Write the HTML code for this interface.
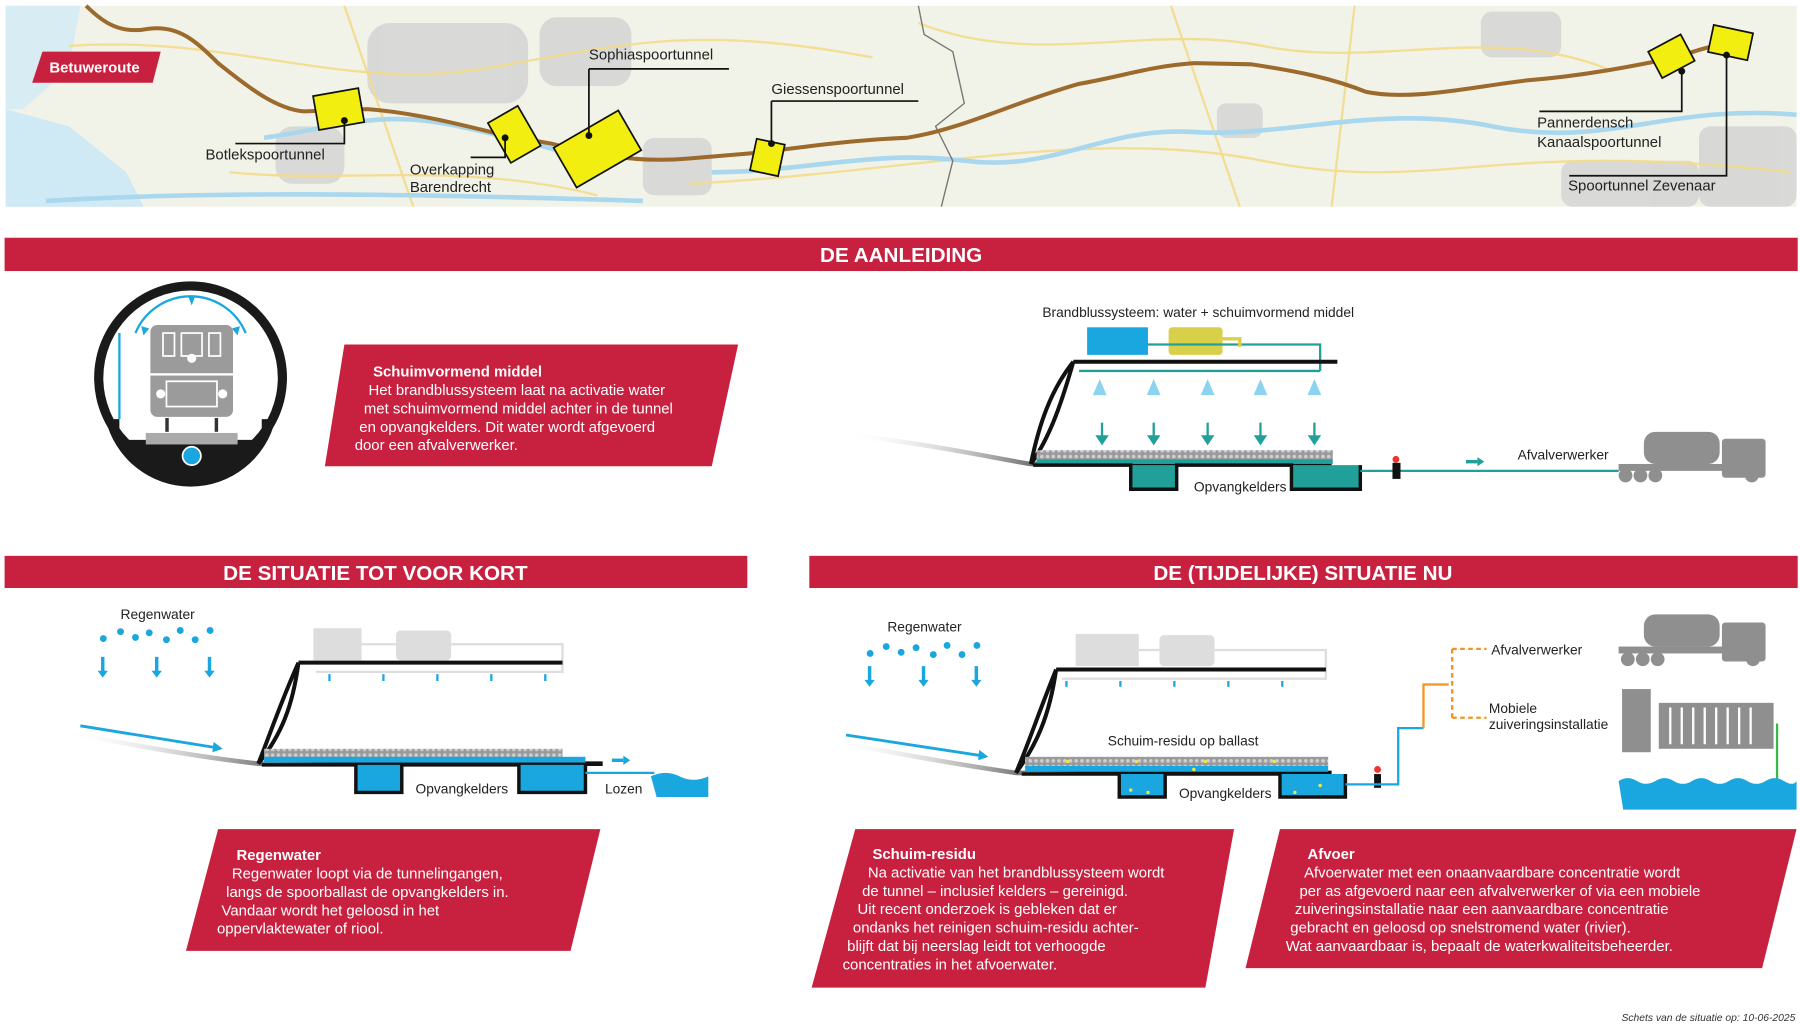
<!DOCTYPE html>
<html><head><meta charset="utf-8"><style>
html,body{margin:0;padding:0;background:#fff;}
svg{display:block;}
text{font-family:"Liberation Sans",sans-serif;}
</style></head><body>
<svg width="1800" height="1029" viewBox="0 0 1568 896" preserveAspectRatio="none" xmlns="http://www.w3.org/2000/svg">
<defs>
<pattern id="bal" width="5" height="5" patternUnits="userSpaceOnUse"><rect width="5" height="5" fill="#9a9a9a"/><circle cx="2.5" cy="2.5" r="1.6" fill="#cfcfcf"/></pattern>
<linearGradient id="gnd" x1="0" x2="1"><stop offset="0" stop-color="#fff" stop-opacity="0"/><stop offset="0.5" stop-color="#111"/></linearGradient>
</defs>
<!-- MAP -->
<rect x="5" y="5" width="1560" height="175" fill="#f1f2e8"/>
<path d="M5 95 L60 110 L110 150 L125 180 L5 180 Z" fill="#cfe9f5"/>
<path d="M5 5 L70 5 L60 60 L20 95 L5 95Z" fill="#d8ecf4"/>
<g fill="#d6d6d6" opacity="0.9">
<rect x="320" y="20" width="140" height="70" rx="20"/><rect x="470" y="15" width="80" height="60" rx="15"/><rect x="560" y="120" width="60" height="50" rx="10"/><rect x="240" y="110" width="60" height="50" rx="15"/>
<rect x="1360" y="140" width="120" height="40" rx="10"/><rect x="1480" y="110" width="85" height="70" rx="10"/><rect x="1290" y="10" width="70" height="40" rx="10"/><rect x="1060" y="90" width="40" height="30" rx="8"/>
</g>
<g fill="none" stroke="#f3dc8a" stroke-width="2" opacity="0.9">
<path d="M60 40 C200 30 300 80 420 60 S600 20 760 50"/><path d="M200 150 C300 160 400 140 520 170"/><path d="M800 20 C900 60 1000 20 1100 40 S1300 20 1400 60"/><path d="M600 160 C800 150 950 110 1100 140 S1300 120 1560 150"/><path d="M300 5 L360 180"/><path d="M1020 5 L1080 180"/><path d="M1180 5 L1160 180"/>
</g>
<g fill="none" stroke="#a9d7ee" stroke-width="4">
<path d="M230 120 C300 110 330 95 400 110 S480 130 520 140"/><path d="M620 150 C700 150 760 130 840 140 S960 110 1040 115 S1200 90 1300 110 S1450 90 1565 100"/><path d="M40 175 C200 165 400 170 560 175"/>
</g>
<path d="M800 5 L805 30 L830 45 L840 90 L815 110 L830 140 L820 180" fill="none" stroke="#777" stroke-width="1.2"/>
<path d="M75 5 C90 20 105 30 130 25 C155 22 170 35 190 55 C215 75 240 95 265 97 L320 95 C360 98 400 108 440 118 L480 125 C520 135 555 142 600 138 L660 133 C700 128 740 122 790 120 C840 112 880 90 940 73 C980 66 1000 58 1040 55 L1090 56 C1130 62 1160 68 1190 80 C1230 88 1280 76 1330 70 C1380 66 1420 58 1460 50 C1490 40 1505 35 1525 40" fill="none" stroke="#9c6a2c" stroke-width="3.5"/>
<g fill="#f2ee10" stroke="#111" stroke-width="1.5">
<rect x="275" y="80" width="40" height="30" transform="rotate(-10 295 95)"/>
<rect x="433" y="97" width="30" height="40" transform="rotate(-30 448 117)"/>
<rect x="488" y="110" width="65" height="40" transform="rotate(-30 520 130)"/>
<rect x="656" y="123" width="25" height="28" transform="rotate(12 668 137)"/>
<rect x="1440" y="36" width="32" height="26" transform="rotate(-28 1456 49)"/>
<rect x="1490" y="25" width="35" height="24" transform="rotate(12 1507 37)"/>
</g>
<g fill="none" stroke="#111" stroke-width="1.5">
<path d="M205 125 H300 V105"/><path d="M410 137 H440 V120"/><path d="M513 60 H635 M513 60 V118"/><path d="M672 88 H800 M672 88 V125"/><path d="M1341 97 H1465 V62"/><path d="M1367 153 H1504 V48"/>
</g>
<g fill="#111"><circle cx="300" cy="105" r="3"/><circle cx="440" cy="120" r="3"/><circle cx="513" cy="118" r="3"/><circle cx="672" cy="125" r="3"/><circle cx="1465" cy="62" r="3"/><circle cx="1504" cy="48" r="3"/></g>
<g font-size="13" fill="#222">
<text x="179" y="139">Botlekspoortunnel</text><text x="357" y="152">Overkapping</text><text x="357" y="167">Barendrecht</text><text x="513" y="52">Sophiaspoortunnel</text><text x="672" y="82">Giessenspoortunnel</text><text x="1339" y="111">Pannerdensch</text><text x="1339" y="128">Kanaalspoortunnel</text><text x="1366" y="166">Spoortunnel Zevenaar</text>
</g>
<polygon points="37,45 140,45 133,72 28,72" fill="#c8203f"/>
<text x="43" y="63" font-size="13" font-weight="bold" fill="#fff">Betuweroute</text>

<!-- BANNERS -->
<rect x="4" y="207" width="1562" height="29" fill="#c8203f"/>
<text x="785" y="228" font-size="18" font-weight="bold" fill="#fff" text-anchor="middle">DE AANLEIDING</text>
<rect x="4" y="484" width="647" height="28" fill="#c8203f"/>
<text x="327" y="505" font-size="18" font-weight="bold" fill="#fff" text-anchor="middle">DE SITUATIE TOT VOOR KORT</text>
<rect x="705" y="484" width="861" height="28" fill="#c8203f"/>
<text x="1135" y="505" font-size="18" font-weight="bold" fill="#fff" text-anchor="middle">DE (TIJDELIJKE) SITUATIE NU</text>

<!-- TUNNEL CIRCLE -->
<circle cx="166" cy="329" r="84" fill="#1a1a1a"/>
<circle cx="166" cy="329" r="76" fill="#fff"/>
<path d="M92 365 H104 V383 H228 V365 H240 A76 76 0 0 1 92 365Z" fill="#1a1a1a"/>
<rect x="127" y="377" width="80" height="10" fill="#aaa"/>
<path d="M104 365 V290" fill="none" stroke="#1aa7e0" stroke-width="2"/>
<path d="M118 290 A52 52 0 0 1 214 290" fill="none" stroke="#1aa7e0" stroke-width="2"/>
<path d="M164 258 l3 8 l3 -8z M123 284 l2 8 l5 -6z M209 284 l-2 8 l-5 -6z" fill="#1aa7e0"/>
<rect x="131" y="283" width="72" height="80" rx="6" fill="#9b9b9b"/>
<rect x="142" y="290" width="10" height="20" fill="none" stroke="#fff" stroke-width="1.5"/><rect x="158" y="290" width="18" height="20" fill="none" stroke="#fff" stroke-width="1.5"/><rect x="182" y="290" width="10" height="20" fill="none" stroke="#fff" stroke-width="1.5"/>
<circle cx="167" cy="312" r="4" fill="#fff"/><circle cx="140" cy="343" r="4" fill="#fff"/><circle cx="194" cy="343" r="4" fill="#fff"/>
<rect x="129" y="325" width="76" height="2" fill="#fff"/><rect x="145" y="332" width="44" height="22" fill="none" stroke="#fff" stroke-width="1.5"/>
<rect x="144" y="364" width="3" height="12" fill="#333"/><rect x="187" y="364" width="3" height="12" fill="#333"/>
<circle cx="167" cy="397" r="8" fill="#1aa7e0" stroke="#fff" stroke-width="1.5"/>

<!-- TEXT BOX 1 -->
<polygon points="300,300 643,300 620,406 283,406" fill="#c8203f"/>
<g font-size="13" fill="#fff"><text x="325" y="328" font-weight="bold">Schuimvormend middel</text>
<text x="321" y="344">Het brandblussysteem laat na activatie water</text><text x="317" y="360">met schuimvormend middel achter in de tunnel</text><text x="313" y="376">en opvangkelders. Dit water wordt afgevoerd</text><text x="309" y="392">door een afvalverwerker.</text></g>

<!-- DIAGRAM 1 -->
<text x="908" y="276" font-size="12" fill="#222">Brandblussysteem: water + schuimvormend middel</text>
<rect x="947" y="285" width="53" height="24" fill="#1aa7e0"/>
<rect x="1018" y="285" width="47" height="24" rx="3" fill="#d9d04a"/>
<path d="M1000 300 H1150 V323" fill="none" stroke="#21a09a" stroke-width="2"/>
<path d="M1065 295 H1080 V302" fill="none" stroke="#d9d04a" stroke-width="3"/>
<path d="M940 323 H1150" stroke="#21a09a" stroke-width="2"/>
<path d="M735 378 C820 388 870 400 898 404 L1160 404" fill="none" stroke="url(#gnd)" stroke-width="4"/>
<path d="M935 315 H1165 M935 315 C915 340 905 370 898 404 M935 315 C925 350 915 380 898 404" fill="none" stroke="#111" stroke-width="3.5"/>
<g fill="#1aa7e0"><path d="M958 330 l-6 14 h12z M1005 330 l-6 14 h12z M1052 330 l-6 14 h12z M1098 330 l-6 14 h12z M1145 330 l-6 14 h12z" opacity="0.5"/></g>
<g stroke="#21a09a" stroke-width="2" fill="#21a09a"><path d="M960 368 V382 M1005 368 V382 M1052 368 V382 M1098 368 V382 M1145 368 V382"/><path d="M956 380 l4 6 l4 -6z M1001 380 l4 6 l4 -6z M1048 380 l4 6 l4 -6z M1094 380 l4 6 l4 -6z M1141 380 l4 6 l4 -6z"/></g>
<rect x="903" y="392" width="258" height="9" fill="url(#bal)"/>
<rect x="903" y="400" width="258" height="4" fill="#21a09a"/>
<path d="M900 405 H985 V426 H1025 V405 H1125 V426 H1185 V405" fill="#21a09a" stroke="#111" stroke-width="3"/>
<path d="M1185 410 H1410" stroke="#21a09a" stroke-width="2"/>
<rect x="1213" y="403" width="7" height="14" fill="#111"/><circle cx="1216" cy="400" r="3" fill="#e33"/>
<path d="M1277 402 h10" stroke="#21a09a" stroke-width="3"/><path d="M1287 398 l6 4 l-6 4z" fill="#21a09a"/>
<text x="1040" y="428" font-size="12" fill="#222">Opvangkelders</text>
<text x="1322" y="400" font-size="12" fill="#222">Afvalverwerker</text>
<g fill="#8f8f8f"><rect x="1432" y="376" width="66" height="28" rx="10"/><rect x="1500" y="382" width="38" height="34" rx="3"/><rect x="1410" y="404" width="92" height="6"/><circle cx="1416" cy="414" r="6"/><circle cx="1429" cy="414" r="6"/><circle cx="1442" cy="414" r="6"/><circle cx="1526" cy="414" r="6"/></g>

<!-- DIAGRAM 2 (left) -->
<text x="105" y="539" font-size="12" fill="#222">Regenwater</text>
<g fill="#1aa7e0"><circle cx="90" cy="556" r="3"/><circle cx="105" cy="550" r="3"/><circle cx="118" cy="555" r="3"/><circle cx="130" cy="551" r="3"/><circle cx="145" cy="557" r="3"/><circle cx="157" cy="549" r="3"/><circle cx="170" cy="557" r="3"/><circle cx="183" cy="549" r="3"/>
<path d="M88 572h3v12h3l-4.5 6-4.5-6h3z M135 572h3v12h3l-4.5 6-4.5-6h3z M181 572h3v12h3l-4.5 6-4.5-6h3z"/></g>
<rect x="273" y="547" width="42" height="28" fill="#ddd"/><rect x="345" y="549" width="48" height="26" rx="4" fill="#ddd"/>
<path d="M315 561 H345 M393 561 H490 V585 H275" fill="none" stroke="#ddd" stroke-width="2"/>
<g fill="#1aa7e0"><rect x="286" y="587" width="2" height="6"/><rect x="333" y="587" width="2" height="6"/><rect x="380" y="587" width="2" height="6"/><rect x="427" y="587" width="2" height="6"/><rect x="474" y="587" width="2" height="6"/></g>
<path d="M55 637 C120 650 180 660 225 665 L525 665" fill="none" stroke="url(#gnd)" stroke-width="4"/>
<path d="M260 577 H490 M260 577 C245 610 235 640 225 665 M260 577 C255 615 245 640 225 665" fill="none" stroke="#111" stroke-width="3.5"/>
<path d="M70 632 L188 651" stroke="#1aa7e0" stroke-width="2.5"/><path d="M186 646 l8 6 l-9 3z" fill="#1aa7e0"/>
<rect x="230" y="652" width="260" height="8" fill="url(#bal)"/><rect x="230" y="659" width="280" height="5" fill="#1aa7e0"/>
<path d="M228 666 H310 V690 H350 V666 H452 V690 H510 V666" fill="#1aa7e0" stroke="#111" stroke-width="3"/>
<path d="M510 673 H570" stroke="#1aa7e0" stroke-width="2"/>
<path d="M567 676 Q580 670 592 676 T617 676 V694 H572 Z" fill="#1aa7e0"/>
<path d="M533 662 h10" stroke="#1aa7e0" stroke-width="3"/><path d="M543 658 l6 4 l-6 4z" fill="#1aa7e0"/>
<text x="362" y="691" font-size="12" fill="#222">Opvangkelders</text><text x="527" y="691" font-size="12" fill="#222">Lozen</text>

<!-- TEXT BOX 2 -->
<polygon points="190,722 523,722 497,828 162,828" fill="#c8203f"/>
<g font-size="13" fill="#fff"><text x="206" y="749" font-weight="bold">Regenwater</text>
<text x="202" y="765">Regenwater loopt via de tunnelingangen,</text><text x="197" y="781">langs de spoorballast de opvangkelders in.</text><text x="193" y="797">Vandaar wordt het geloosd in het</text><text x="189" y="813">oppervlaktewater of riool.</text></g>

<!-- DIAGRAM 3 (right) -->
<text x="773" y="550" font-size="12" fill="#222">Regenwater</text>
<g fill="#1aa7e0"><circle cx="758" cy="569" r="3"/><circle cx="772" cy="563" r="3"/><circle cx="785" cy="568" r="3"/><circle cx="798" cy="564" r="3"/><circle cx="813" cy="570" r="3"/><circle cx="825" cy="562" r="3"/><circle cx="838" cy="570" r="3"/><circle cx="851" cy="562" r="3"/>
<path d="M756 580h3v12h3l-4.5 6-4.5-6h3z M803 580h3v12h3l-4.5 6-4.5-6h3z M849 580h3v12h3l-4.5 6-4.5-6h3z"/></g>
<rect x="937" y="552" width="55" height="28" fill="#ddd"/><rect x="1010" y="553" width="48" height="27" rx="4" fill="#ddd"/>
<path d="M992 566 H1010 M1058 566 H1155 V591 H925" fill="none" stroke="#ddd" stroke-width="2"/>
<g fill="#1aa7e0"><rect x="928" y="593" width="2" height="5"/><rect x="975" y="593" width="2" height="5"/><rect x="1022" y="593" width="2" height="5"/><rect x="1069" y="593" width="2" height="5"/><rect x="1116" y="593" width="2" height="5"/></g>
<path d="M723 645 C790 658 850 668 885 673 L1160 673" fill="none" stroke="url(#gnd)" stroke-width="4"/>
<path d="M920 583 H1155 M920 583 C905 620 895 650 885 673 M920 583 C914 625 902 650 885 673" fill="none" stroke="#111" stroke-width="3.5"/>
<path d="M737 640 L855 658" stroke="#1aa7e0" stroke-width="2.5"/><path d="M853 653 l8 6 l-9 3z" fill="#1aa7e0"/>
<text x="965" y="649" font-size="12" fill="#222">Schuim-residu op ballast</text>
<rect x="893" y="659" width="264" height="9" fill="url(#bal)"/><rect x="893" y="667" width="264" height="5" fill="#1aa7e0"/>
<path d="M890 674 H975 V694 H1015 V674 H1115 V694 H1172 V674" fill="#1aa7e0" stroke="#111" stroke-width="3"/>
<g fill="#f2e640"><circle cx="930" cy="663" r="1.5"/><circle cx="990" cy="663" r="1.5"/><circle cx="1050" cy="663" r="1.5"/><circle cx="1110" cy="663" r="1.5"/><circle cx="985" cy="688" r="1.5"/><circle cx="1000" cy="690" r="1.5"/><circle cx="1128" cy="690" r="1.5"/><circle cx="1150" cy="684" r="1.5"/><circle cx="1040" cy="670" r="1.5"/></g>
<text x="1027" y="695" font-size="12" fill="#222">Opvangkelders</text>
<rect x="1197" y="674" width="6" height="12" fill="#111"/><circle cx="1200" cy="670" r="3" fill="#e33"/>
<path d="M1172 683 H1218 V634 H1240" fill="none" stroke="#1aa7e0" stroke-width="2"/>
<path d="M1240 634 V596 H1262" fill="none" stroke="#f39322" stroke-width="2"/>
<path d="M1265 565 V625 M1265 565 H1295 M1265 625 H1295" fill="none" stroke="#f39322" stroke-width="2" stroke-dasharray="4 3"/>
<text x="1299" y="570" font-size="12" fill="#222">Afvalverwerker</text>
<text x="1297" y="621" font-size="12" fill="#222">Mobiele</text><text x="1297" y="635" font-size="12" fill="#222">zuiveringsinstallatie</text>
<g fill="#8f8f8f"><rect x="1432" y="535" width="66" height="28" rx="10"/><rect x="1500" y="542" width="38" height="34" rx="3"/><rect x="1410" y="563" width="92" height="6"/><circle cx="1418" cy="574" r="6"/><circle cx="1431" cy="574" r="6"/><circle cx="1444" cy="574" r="6"/><circle cx="1527" cy="574" r="6"/>
<rect x="1413" y="600" width="25" height="55"/><rect x="1445" y="612" width="100" height="40"/></g>
<g stroke="#fff" stroke-width="2"><path d="M1455 616 V648 M1465 616 V648 M1475 616 V648 M1485 616 V648 M1495 616 V648 M1505 616 V648 M1515 616 V648 M1525 616 V648"/></g>
<path d="M1548 630 V680" stroke="#3cb84a" stroke-width="2"/>
<path d="M1410 680 Q1418 675 1426 680 T1442 680 T1458 680 T1474 680 T1490 680 T1506 680 T1522 680 T1538 680 T1554 680 T1565 680 V705 H1414 Z" fill="#1aa7e0"/>

<!-- TEXT BOX 3 -->
<polygon points="745,722 1075,722 1050,860 707,860" fill="#c8203f"/>
<g font-size="13" fill="#fff"><text x="760" y="748" font-weight="bold">Schuim-residu</text>
<text x="756" y="764">Na activatie van het brandblussysteem wordt</text><text x="751" y="780">de tunnel – inclusief kelders – gereinigd.</text><text x="747" y="796">Uit recent onderzoek is gebleken dat er</text><text x="743" y="812">ondanks het reinigen schuim-residu achter-</text><text x="738" y="828">blijft dat bij neerslag leidt tot verhoogde</text><text x="734" y="844">concentraties in het afvoerwater.</text></g>
<!-- TEXT BOX 4 -->
<polygon points="1115,722 1565,722 1535,843 1085,843" fill="#c8203f"/>
<g font-size="13" fill="#fff"><text x="1139" y="748" font-weight="bold">Afvoer</text>
<text x="1136" y="764">Afvoerwater met een onaanvaardbare concentratie wordt</text><text x="1132" y="780">per as afgevoerd naar een afvalverwerker of via een mobiele</text><text x="1128" y="796">zuiveringsinstallatie naar een aanvaardbare concentratie</text><text x="1124" y="812">gebracht en geloosd op snelstromend water (rivier).</text><text x="1120" y="828">Wat aanvaardbaar is, bepaalt de waterkwaliteitsbeheerder.</text></g>
<text x="1564" y="889" font-size="9" font-style="italic" fill="#333" text-anchor="end">Schets van de situatie op: 10-06-2025</text>
</svg>
</body></html>
